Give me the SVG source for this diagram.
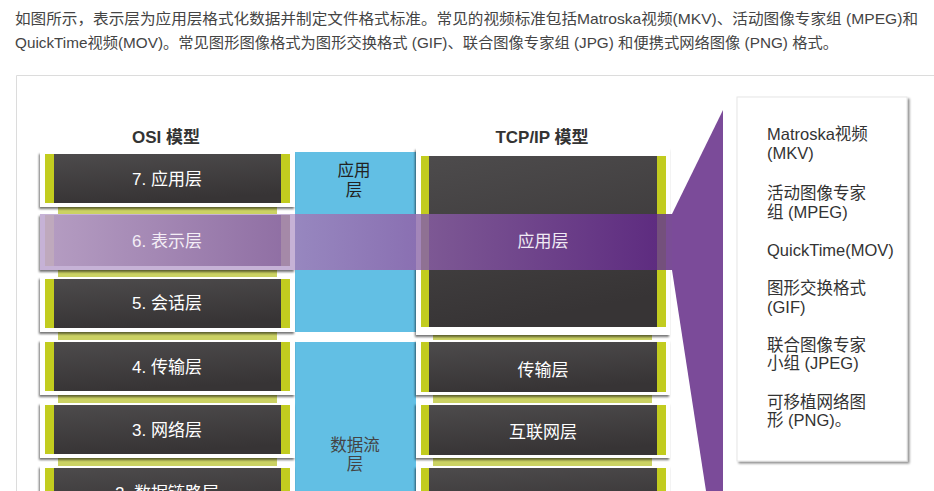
<svg xmlns="http://www.w3.org/2000/svg" width="934" height="491" viewBox="0 0 934 491">
<style>
text{font-family:"Liberation Sans","Noto Sans CJK SC",sans-serif}
.intro{font-size:15px;fill:#444}
.hdr{font-size:17px;font-weight:bold;fill:#333;text-anchor:middle}
.lbl{font-size:17px;fill:#fff;text-anchor:middle}
.blue{font-size:16.5px;fill:#222;text-anchor:middle}
.side{font-size:16.5px;fill:#333}
.frame{fill:#fff}
.lime{fill:#c2cc1f}
.dark{fill:url(#dg)}
</style>
<defs>
<linearGradient id="dg" x1="0" y1="0" x2="0.25" y2="1">
<stop offset="0" stop-color="#4d4b4c"/><stop offset="1" stop-color="#373435"/>
</linearGradient>
<linearGradient id="p6" x1="0" y1="0" x2="1" y2="0">
<stop offset="0" stop-color="#b59dc2"/><stop offset="1" stop-color="#8f6ea3"/>
</linearGradient>
<linearGradient id="pb" x1="0" y1="0" x2="1" y2="0">
<stop offset="0" stop-color="#9787bf"/><stop offset="1" stop-color="#8a70b2"/>
</linearGradient>
<linearGradient id="pt" x1="0" y1="0" x2="1" y2="0">
<stop offset="0" stop-color="#7d5894"/><stop offset="1" stop-color="#5e2c80"/>
</linearGradient>
<filter id="sh" x="-5%" y="-10%" width="110%" height="130%">
<feDropShadow dx="-1" dy="2" stdDeviation="1.2" flood-color="#000" flood-opacity="0.55"/>
</filter>
<filter id="psh" x="-5%" y="-5%" width="115%" height="110%">
<feDropShadow dx="2" dy="2" stdDeviation="1.2" flood-color="#000" flood-opacity="0.45"/>
</filter>
</defs>

<text class="intro" x="15" y="24" textLength="903" lengthAdjust="spacingAndGlyphs">如图所示，表示层为应用层格式化数据并制定文件格式标准。常见的视频标准包括Matroska视频(MKV)、活动图像专家组 (MPEG)和</text>
<text class="intro" x="15" y="48" textLength="823" lengthAdjust="spacingAndGlyphs">QuickTime视频(MOV)。常见图形图像格式为图形交换格式 (GIF)、联合图像专家组 (JPG) 和便携式网络图像 (PNG) 格式。</text>

<path d="M16.5,491 V75.5 H934" fill="none" stroke="#dcdcdc" stroke-width="1"/>

<text class="hdr" x="166" y="143">OSI 模型</text>
<text class="hdr" x="542" y="143">TCP/IP 模型</text>

<g id="flow">
<rect x="295" y="152" width="121" height="180" fill="#62bfe4"/>
<rect x="295" y="342" width="121" height="149" fill="#62bfe4"/>
<text class="blue" x="354" y="176">应用</text>
<text class="blue" x="354" y="196">层</text>
<text class="blue" x="355" y="451" style="fill:#444">数据流</text>
<text class="blue" x="355" y="470" style="fill:#444">层</text>
</g>

<rect x="58" y="160" width="219" height="331" fill="#cbd263"/>
<rect x="433" y="335" width="219" height="156" fill="#cbd263"/>

<g id="osi7"><g filter="url(#sh)"><rect class="frame" x="40" y="152" width="255" height="55"/></g>
<rect class="dark" x="45" y="154" width="245" height="49"/><rect class="lime" x="45" y="154" width="9" height="49"/><rect class="lime" x="281" y="154" width="9" height="49"/>
<text class="lbl" x="167" y="185">7. 应用层</text></g>

<g id="osi5"><g filter="url(#sh)"><rect class="frame" x="40" y="277" width="255" height="55"/></g>
<rect class="dark" x="45" y="279" width="245" height="49"/><rect class="lime" x="45" y="279" width="9" height="49"/><rect class="lime" x="281" y="279" width="9" height="49"/>
<text class="lbl" x="167" y="309">5. 会话层</text></g>

<g id="osi4"><g filter="url(#sh)"><rect class="frame" x="40" y="340" width="255" height="55"/></g>
<rect class="dark" x="45" y="342" width="245" height="49"/><rect class="lime" x="45" y="342" width="9" height="49"/><rect class="lime" x="281" y="342" width="9" height="49"/>
<text class="lbl" x="167" y="373">4. 传输层</text></g>

<g id="osi3"><g filter="url(#sh)"><rect class="frame" x="40" y="403" width="255" height="55"/></g>
<rect class="dark" x="45" y="405" width="245" height="49"/><rect class="lime" x="45" y="405" width="9" height="49"/><rect class="lime" x="281" y="405" width="9" height="49"/>
<text class="lbl" x="167" y="436">3. 网络层</text></g>

<g id="osi2"><g filter="url(#sh)"><rect class="frame" x="40" y="466" width="255" height="55"/></g>
<rect class="dark" x="45" y="468" width="245" height="49"/><rect class="lime" x="45" y="468" width="9" height="49"/><rect class="lime" x="281" y="468" width="9" height="49"/>
<text class="lbl" x="167" y="499">2. 数据链路层</text></g>

<g id="tcp-app"><g filter="url(#sh)"><rect class="frame" x="416" y="148" width="254" height="187"/></g>
<rect class="dark" x="429" y="156" width="228" height="171"/><rect class="lime" x="421" y="156" width="8" height="171"/><rect class="lime" x="657" y="156" width="9" height="171"/></g>

<g id="tcp-transport"><g filter="url(#sh)"><rect class="frame" x="416" y="340" width="254" height="55"/></g>
<rect class="dark" x="429" y="342" width="228" height="50"/><rect class="lime" x="421" y="342" width="8" height="50"/><rect class="lime" x="657" y="342" width="9" height="50"/>
<text class="lbl" x="543" y="376">传输层</text></g>

<g id="tcp-internet"><g filter="url(#sh)"><rect class="frame" x="416" y="403" width="254" height="55"/></g>
<rect class="dark" x="429" y="405" width="228" height="50"/><rect class="lime" x="421" y="405" width="8" height="50"/><rect class="lime" x="657" y="405" width="9" height="50"/>
<text class="lbl" x="543" y="438">互联网层</text></g>

<g id="tcp-link"><g filter="url(#sh)"><rect class="frame" x="416" y="466" width="254" height="55"/></g>
<rect class="dark" x="429" y="468" width="228" height="50"/><rect class="lime" x="421" y="468" width="8" height="50"/><rect class="lime" x="657" y="468" width="9" height="50"/></g>

<g id="osi6"><g filter="url(#sh)"><rect x="40" y="214" width="255" height="56" fill="#c6b2d6"/></g>
<rect x="45" y="215" width="245" height="51" fill="url(#p6)"/>
<rect x="45" y="215" width="9" height="51" fill="#bfa9bd"/><rect x="281" y="215" width="9" height="51" fill="#a589a8"/>
<text class="lbl" x="167" y="247" style="fill:#f4eef6">6. 表示层</text></g>

<g id="highlight">
<rect x="295" y="214" width="121" height="56" fill="url(#pb)"/>
<rect x="416" y="214" width="5" height="56" fill="#a386b9"/>
<rect x="421" y="214" width="8" height="56" fill="#8f7193"/>
<rect x="429" y="214" width="228" height="56" fill="url(#pt)"/>
<rect x="657" y="214" width="9" height="56" fill="#74507c"/>
<rect x="666" y="214" width="6" height="56" fill="#7a4d96"/>
<text class="lbl" x="543" y="247" style="fill:#f0eaf4">应用层</text>
</g>

<polygon id="callout" points="723,110 723,491 706,491 672,270 672,214" fill="#7b4b99"/>

<g id="formats">
<g filter="url(#psh)"><rect x="737" y="97" width="170" height="364" fill="#fff" stroke="#e6e6e6"/></g>
<text class="side" x="767" y="140">Matroska视频</text>
<text class="side" x="767" y="159">(MKV)</text>
<text class="side" x="767" y="199">活动图像专家</text>
<text class="side" x="767" y="218">组 (MPEG)</text>
<text class="side" x="767" y="256">QuickTime(MOV)</text>
<text class="side" x="767" y="294">图形交换格式</text>
<text class="side" x="767" y="313">(GIF)</text>
<text class="side" x="767" y="351">联合图像专家</text>
<text class="side" x="767" y="369">小组 (JPEG)</text>
<text class="side" x="767" y="408">可移植网络图</text>
<text class="side" x="767" y="426">形 (PNG)。</text>
</g>
</svg>
